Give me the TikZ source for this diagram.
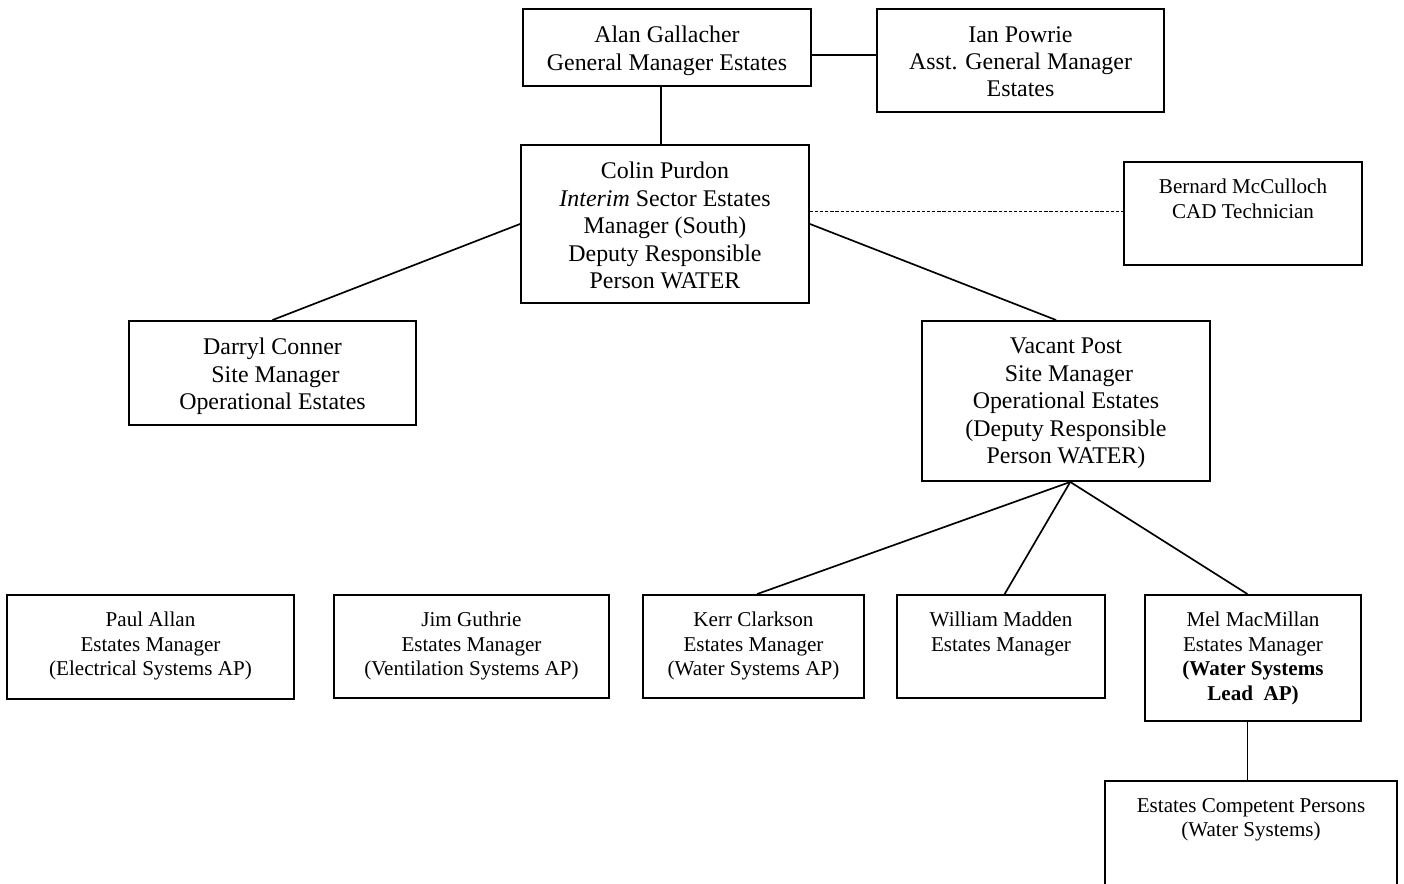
\documentclass[tikz,border=0pt]{standalone}
\usepackage{fontspec}
\setmainfont{Liberation Serif}
\usetikzlibrary{positioning}
\tikzset{
    RA/.style ={rectangle, draw, line width=1.1pt, inner sep=0pt},
    BIG/.style ={align=center, inner sep=0pt, font=\fontsize{13.6}{15.6}\selectfont},
    SML/.style ={align=center, inner sep=0pt, font=\fontsize{12}{13.9}\selectfont},
    LN/.style ={line width=0.95pt},
    DL/.style ={line width=0.5pt, dash pattern=on 1.8pt off 1.1pt}}

\begin{document}
\begin{tikzpicture}
    \useasboundingbox (0,0) rectangle (28.08,-17.68);
    \clip (0,0) rectangle (28.08,-17.68);
        % boxes
        \node(1)  [RA, minimum width=5.76cm, minimum height=1.54cm] at (13.34,-0.95) {};
        \node(2)  [RA, minimum width=5.74cm, minimum height=2.06cm] at (20.41,-1.21) {};
        \node(3)  [RA, minimum width=5.76cm, minimum height=3.16cm] at (13.30,-4.48) {};
        \node(4)  [RA, minimum width=4.76cm, minimum height=2.06cm] at (24.86,-4.27) {};
        \node(5)  [RA, minimum width=5.74cm, minimum height=2.08cm] at (5.45,-7.46) {};
        \node(6)  [RA, minimum width=5.76cm, minimum height=3.20cm] at (21.32,-8.02) {};
        \node(7)  [RA, minimum width=5.74cm, minimum height=2.08cm] at (3.01,-12.94) {};
        \node(8)  [RA, minimum width=5.50cm, minimum height=2.06cm] at (9.43,-12.93) {};
        \node(9)  [RA, minimum width=4.42cm, minimum height=2.06cm] at (15.07,-12.93) {};
        \node(10) [RA, minimum width=4.16cm, minimum height=2.06cm] at (20.02,-12.93) {};
        \node(11) [RA, minimum width=4.32cm, minimum height=2.52cm] at (25.06,-13.16) {};
        \node(12) [RA, minimum width=5.84cm, minimum height=3.00cm] at (25.02,-17.12) {};
        % texts, hung from the top of each box
        \node(t1)  [BIG, below=10.2pt of 1.north] {Alan Gallacher\\General Manager Estates};
        \node(t2)  [BIG, below=10.2pt of 2.north] {Ian Powrie\\Asst. General Manager\\Estates};
        \node(t3)  [BIG, below=10.2pt of 3.north] {Colin Purdon\\\textit{Interim} Sector Estates\\Manager (South)\\Deputy Responsible\\Person WATER};
        \node(t4)  [SML, below=10.2pt of 4.north] {Bernard McCulloch\\CAD Technician};
        \node(t5)  [BIG, below=10.2pt of 5.north] {Darryl Conner\\~Site Manager\\Operational Estates};
        \node(t6)  [BIG, below=10.2pt of 6.north] {Vacant Post\\~Site Manager\\Operational Estates\\(Deputy Responsible\\Person WATER)};
        \node(t7)  [SML, below=10.2pt of 7.north] {Paul Allan\\Estates Manager\\(Electrical Systems AP)};
        \node(t8)  [SML, below=10.2pt of 8.north] {Jim Guthrie\\Estates Manager\\(Ventilation Systems AP)};
        \node(t9)  [SML, below=10.2pt of 9.north] {Kerr Clarkson\\Estates Manager\\(Water Systems AP)};
        \node(t10) [SML, below=10.2pt of 10.north] {William Madden\\Estates Manager};
        \node(t11) [SML, below=10.2pt of 11.north] {Mel MacMillan\\Estates Manager\\\textbf{(Water Systems}\\\textbf{Lead~~AP)}};
        \node(t12) [SML, below=10.2pt of 12.north] {Estates Competent Persons\\(Water Systems)};
        % connectors
        \draw[LN] (1.357) -- (1.357 -| 2.west);
        \draw[LN] (1.261) -- (1.261 |- 3.north);
        \draw[LN] (3.west) -- (5.north);
        \draw[LN] (3.east) -- (6.97);
        \draw[DL] (3.5.6) -- (3.5.6 -| 4.west);
        \draw[LN] (6.273) -- (9.86);
        \draw[LN] (6.273) -- (10.86);
        \draw[LN] (6.273) -- (11.95);
        \draw[LN] (11.265) -- (11.265 |- 12.north);
    \end{tikzpicture}
\end{document}
